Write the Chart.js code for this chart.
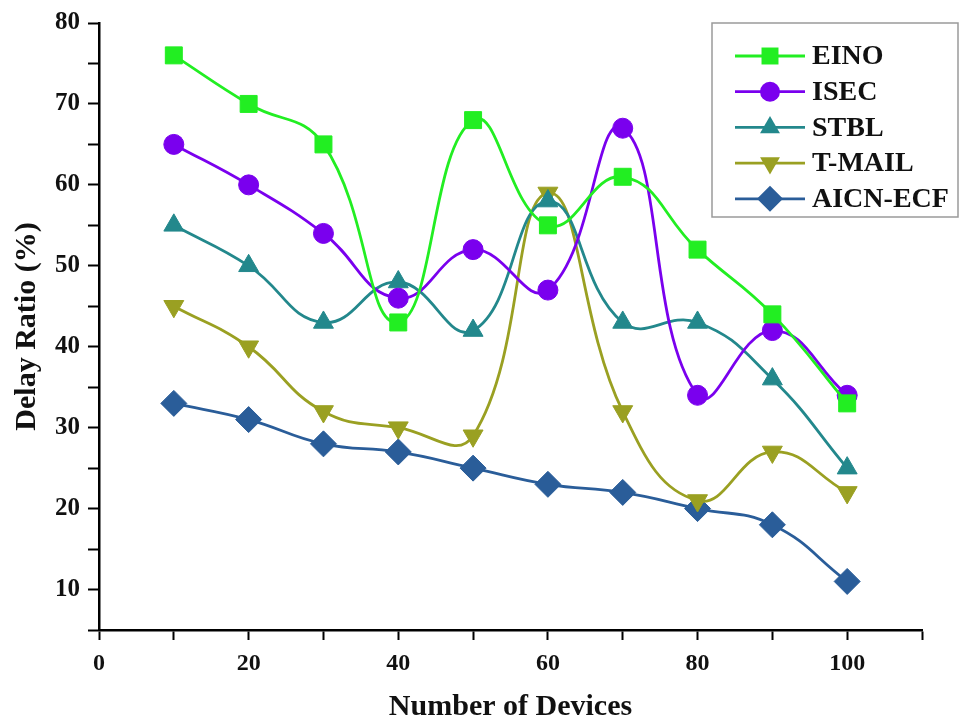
<!DOCTYPE html>
<html>
<head>
<meta charset="utf-8">
<script src="https://cdn.jsdelivr.net/npm/chart.js@4"></script>
<style>
  html, body { margin: 0; padding: 0; background: #fff; }
  #wrap { width: 962px; height: 722px; }
</style>
</head>
<body>
<div id="wrap"><canvas id="delayChart" width="962" height="722"></canvas></div>
<script>
// Data
const devices = [10, 20, 30, 40, 50, 60, 70, 80, 90, 100];
const eino = [76, 70, 65, 43, 68, 55, 61, 52, 44, 33];
const isec = [65, 60, 54, 46, 52, 47, 67, 34, 42, 34];
const stbl = [55, 50, 43, 48, 42, 58, 43, 43, 36, 25];
const tmail = [45, 40, 32, 30, 29, 59, 32, 21, 27, 22];
const aicn = [33, 31, 28, 27, 25, 23, 22, 20, 18, 11];
const yTickLabels = [10, 20, 30, 40, 50, 60, 70, 80];
const xTickLabels = [0, 20, 40, 60, 80, 100];

const serif = '"Liberation Serif", "Times New Roman", serif';

function series(label, values, color, style, radius) {
  return {
    label: label,
    data: devices.map((x, i) => ({ x: x, y: values[i] })),
    borderColor: color,
    backgroundColor: color,
    borderWidth: 2.8,
    pointStyle: style,
    pointRadius: radius,
    pointHoverRadius: radius,
    pointBorderWidth: 1,
    tension: 0.45,
    fill: false
  };
}

const datasets = [
  series('EINO', eino, '#22ee22', 'rect', 12),
  series('ISEC', isec, '#7a00ee', 'circle', 10),
  series('STBL', stbl, '#23888c', 'triangle', 11.5),
  series('T-MAIL', tmail, '#9aa022', 'triangle', 11.5),
  series('AICN-ECF', aicn, '#2a5d99', 'rectRot', 13)
];
datasets[3].pointRotation = 180;

// legend box drawn like the original (line with marker through it)
const boxLegend = {
  id: 'boxLegend',
  afterDraw(chart) {
    const c = chart.ctx;
    c.save();
    c.fillStyle = '#fff';
    c.fillRect(712, 23, 246, 194);
    c.strokeStyle = '#9a9a9a';
    c.lineWidth = 1.5;
    c.strokeRect(712, 23, 246, 194);
    c.beginPath();
    c.rect(713, 24, 238, 192);
    c.clip();
    c.font = 'bold 28px ' + serif;
    c.textBaseline = 'middle';
    chart.data.datasets.forEach((ds, i) => {
      const y = 56 + i * 35.7;
      c.strokeStyle = ds.borderColor;
      c.lineWidth = 2.8;
      c.beginPath();
      c.moveTo(735, y);
      c.lineTo(805, y);
      c.stroke();
      c.fillStyle = ds.backgroundColor;
      Chart.helpers.drawPoint(c, {
        pointStyle: ds.pointStyle,
        rotation: ds.pointRotation || 0,
        radius: ds.pointRadius,
        borderWidth: 0
      }, 770, y);
      c.fillStyle = '#111';
      c.fillText(ds.label, 812, y + 1);
    });
    c.restore();
  }
};

new Chart(document.getElementById('delayChart'), {
  type: 'line',
  data: { datasets: datasets },
  options: {
    responsive: false,
    animation: false,
    layout: { padding: { top: 23, right: 40, left: 0, bottom: 0 } },
    plugins: { legend: { display: false }, tooltip: { enabled: false } },
    scales: {
      x: {
        type: 'linear',
        min: 0,
        max: 110,
        afterFit: s => { s.height = 92; },
        ticks: {
          stepSize: 10,
          autoSkip: false,
          maxRotation: 0,
          padding: 9,
          color: '#111',
          font: { family: serif, weight: 'bold', size: 24 },
          callback: v => xTickLabels.includes(v) ? String(v) : ''
        },
        grid: {
          drawOnChartArea: false,
          drawTicks: true,
          tickLength: 10,
          tickWidth: 2,
          tickColor: '#000'
        },
        border: { color: '#000', width: 2.5 },
        title: {
          display: true,
          text: 'Number of Devices',
          color: '#111',
          font: { family: serif, weight: 'bold', size: 30, lineHeight: 1 },
          padding: { top: 0, bottom: 0 }
        }
      },
      y: {
        min: 5,
        max: 80,
        afterFit: s => { s.width = 99; },
        ticks: {
          stepSize: 5,
          autoSkip: false,
          padding: 8,
          color: '#111',
          font: { family: serif, weight: 'bold', size: 25 },
          callback: v => yTickLabels.includes(v) ? String(v) : ''
        },
        grid: {
          drawOnChartArea: false,
          drawTicks: true,
          tickLength: 11,
          tickWidth: 2,
          tickColor: '#000'
        },
        border: { color: '#000', width: 2.5 },
        title: {
          display: true,
          text: 'Delay Ratio (%)',
          color: '#111',
          font: { family: serif, weight: 'bold', size: 30, lineHeight: 1 },
          padding: { top: 12, bottom: 0 }
        }
      }
    }
  },
  plugins: [boxLegend]
});
</script>
</body>
</html>
